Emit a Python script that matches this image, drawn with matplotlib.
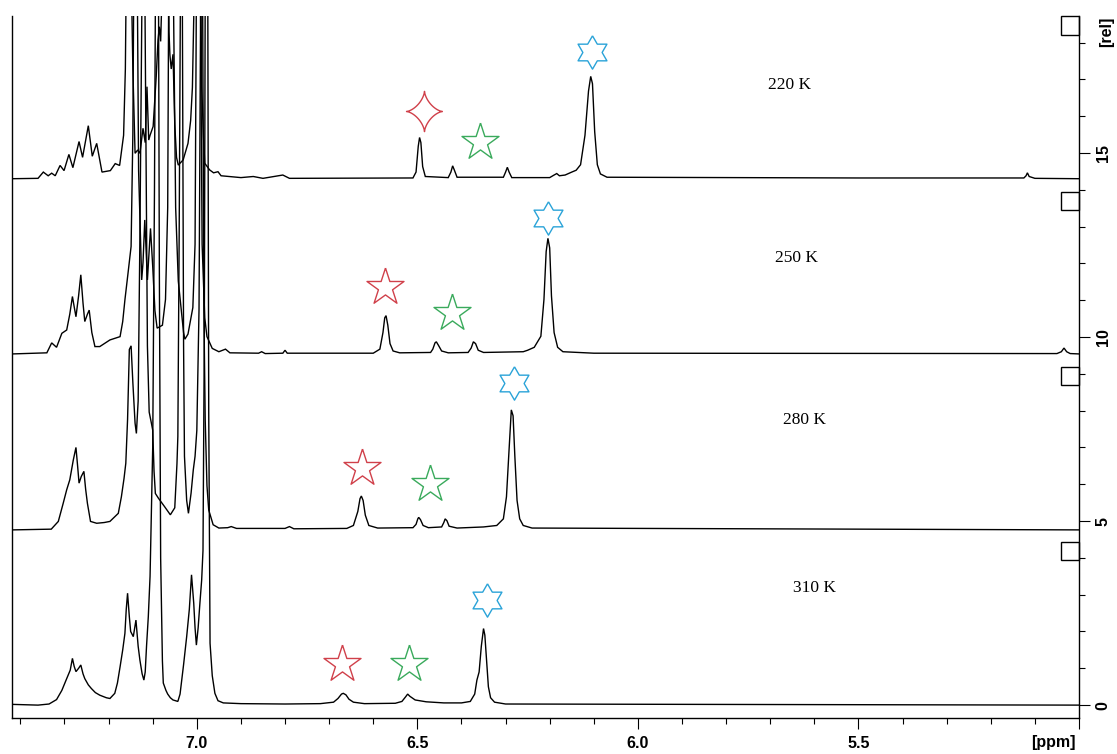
import numpy as np
import matplotlib
matplotlib.use('Agg')
import matplotlib.pyplot as plt
import matplotlib.ticker as ticker
from matplotlib.patches import Rectangle

# temperature series, stacked from top to bottom
temps = ['220 K', '250 K', '280 K', '310 K']
offsets = [14.28, 9.52, 4.76, 0.0]

# (ppm, relative intensity)
pts_220 = [
    (7.418, 0.02), (7.36, 0.03), (7.348, 0.2), (7.337, 0.1), (7.329, 0.17), (7.321, 0.1),
    (7.31, 0.38), (7.301, 0.24), (7.29, 0.68), (7.281, 0.32), (7.267, 1.03), (7.259, 0.6),
    (7.246, 1.46), (7.237, 0.63), (7.227, 0.98), (7.215, 0.2), (7.196, 0.24), (7.185, 0.43),
    (7.175, 0.38), (7.166, 1.2), (7.162, 3.0), (7.158, 8.0), (7.152, 8.0), (7.145, 3.0),
    (7.14, 0.71), (7.134, 0.8), (7.129, 0.71), (7.122, 1.39), (7.117, 1.0), (7.113, 2.52),
    (7.109, 1.07), (7.106, 1.2), (7.099, 1.44), (7.092, 2.8), (7.088, 3.79), (7.085, 4.15),
    (7.082, 3.75), (7.079, 5.0), (7.074, 8.0), (7.066, 8.0), (7.063, 4.0), (7.061, 3.38),
    (7.058, 3.0), (7.054, 3.4), (7.05, 1.5), (7.046, 0.6), (7.042, 0.39), (7.031, 0.53),
    (7.02, 0.98), (7.014, 1.6), (7.01, 2.5), (7.006, 5.0), (7.002, 8.0), (6.993, 8.0),
    (6.989, 2.52), (6.985, 1.2), (6.982, 0.44), (6.971, 0.26), (6.962, 0.18), (6.952, 0.21),
    (6.945, 0.1), (6.90, 0.05), (6.872, 0.08), (6.85, 0.03), (6.805, 0.12), (6.79, 0.03),
    (6.51, 0.04), (6.503, 0.2), (6.498, 0.9), (6.495, 1.14), (6.492, 1.0), (6.488, 0.35),
    (6.482, 0.08), (6.43, 0.05), (6.424, 0.2), (6.42, 0.37), (6.416, 0.25), (6.41, 0.06),
    (6.305, 0.06), (6.3, 0.2), (6.296, 0.33), (6.292, 0.2), (6.286, 0.05), (6.2, 0.05),
    (6.19, 0.12), (6.184, 0.16), (6.178, 0.1), (6.165, 0.12), (6.15, 0.2), (6.14, 0.25),
    (6.13, 0.4), (6.12, 1.2), (6.112, 2.4), (6.107, 2.8), (6.103, 2.6), (6.098, 1.3),
    (6.092, 0.4), (6.085, 0.15), (6.07, 0.06), (5.5, 0.04), (5.125, 0.04), (5.12, 0.1),
    (5.117, 0.18), (5.113, 0.08), (5.1, 0.03), (5.0, 0.02),
]

pts_250 = [
    (7.418, 0.02), (7.34, 0.05), (7.329, 0.32), (7.318, 0.2), (7.306, 0.58), (7.295, 0.67),
    (7.288, 1.1), (7.282, 1.58), (7.278, 1.3), (7.274, 1.03), (7.268, 1.6), (7.263, 2.17),
    (7.258, 1.4), (7.254, 0.9), (7.248, 1.1), (7.244, 1.21), (7.238, 0.6), (7.231, 0.22),
    (7.22, 0.22), (7.197, 0.4), (7.174, 0.49), (7.168, 0.9), (7.163, 1.49), (7.156, 2.21),
    (7.149, 2.94), (7.145, 6.0), (7.142, 12.0), (7.136, 12.0), (7.132, 5.0), (7.125, 2.03),
    (7.122, 2.5), (7.118, 3.66), (7.112, 2.03), (7.105, 3.43), (7.1, 2.4), (7.095, 1.2),
    (7.09, 0.72), (7.078, 0.8), (7.071, 1.5), (7.066, 4.0), (7.063, 12.0), (7.055, 12.0),
    (7.048, 4.0), (7.042, 2.0), (7.036, 1.3), (7.03, 0.6), (7.027, 0.42), (7.02, 0.56),
    (7.009, 1.28), (7.004, 3.0), (7.0, 12.0), (6.993, 12.0), (6.988, 3.0), (6.982, 1.0),
    (6.977, 0.49), (6.965, 0.17), (6.95, 0.08), (6.935, 0.15), (6.925, 0.05), (6.86, 0.04),
    (6.853, 0.08), (6.845, 0.03), (6.805, 0.04), (6.8, 0.12), (6.795, 0.04), (6.6, 0.04),
    (6.585, 0.15), (6.578, 0.6), (6.574, 1.0), (6.571, 1.06), (6.567, 0.8), (6.562, 0.3),
    (6.555, 0.1), (6.54, 0.05), (6.47, 0.06), (6.465, 0.15), (6.46, 0.32), (6.457, 0.35),
    (6.452, 0.25), (6.445, 0.1), (6.43, 0.05), (6.385, 0.06), (6.378, 0.18), (6.373, 0.35),
    (6.368, 0.3), (6.362, 0.12), (6.35, 0.06), (6.26, 0.08), (6.25, 0.12), (6.235, 0.2),
    (6.22, 0.5), (6.213, 1.5), (6.208, 2.8), (6.204, 3.16), (6.2, 2.9), (6.196, 1.6),
    (6.19, 0.6), (6.182, 0.2), (6.17, 0.08), (6.1, 0.04), (5.05, 0.03), (5.04, 0.08),
    (5.034, 0.18), (5.028, 0.08), (5.02, 0.03), (5.0, 0.02),
]

pts_280 = [
    (7.418, 0.0), (7.33, 0.02), (7.314, 0.23), (7.303, 0.72), (7.295, 1.09), (7.288, 1.36),
    (7.28, 1.9), (7.274, 2.24), (7.27, 1.7), (7.267, 1.27), (7.262, 1.45), (7.256, 1.59),
    (7.252, 1.1), (7.248, 0.72), (7.241, 0.23), (7.227, 0.18), (7.21, 0.2), (7.197, 0.23),
    (7.178, 0.45), (7.171, 0.9), (7.165, 1.4), (7.161, 1.81), (7.157, 3.0), (7.153, 4.9),
    (7.149, 5.0), (7.145, 4.0), (7.14, 2.9), (7.137, 2.62), (7.133, 3.5), (7.129, 8.0),
    (7.124, 15.0), (7.118, 15.0), (7.112, 5.0), (7.108, 3.2), (7.103, 2.9), (7.1, 2.71),
    (7.097, 1.6), (7.094, 0.99), (7.087, 0.86), (7.073, 0.63), (7.06, 0.41), (7.05, 0.6),
    (7.045, 1.8), (7.043, 2.54), (7.04, 8.0), (7.037, 15.0), (7.033, 15.0), (7.03, 5.0),
    (7.028, 2.0), (7.023, 0.8), (7.019, 0.45), (7.013, 1.0), (7.008, 1.63), (7.004, 2.0),
    (7.0, 2.7), (6.995, 6.0), (6.991, 15.0), (6.987, 15.0), (6.984, 6.0), (6.981, 3.0),
    (6.977, 1.2), (6.973, 0.54), (6.963, 0.14), (6.95, 0.05), (6.93, 0.06), (6.922, 0.09),
    (6.91, 0.04), (6.80, 0.04), (6.79, 0.09), (6.78, 0.03), (6.66, 0.04), (6.645, 0.12),
    (6.635, 0.5), (6.63, 0.85), (6.627, 0.92), (6.623, 0.8), (6.618, 0.4), (6.61, 0.12),
    (6.59, 0.05), (6.51, 0.06), (6.503, 0.15), (6.499, 0.3), (6.497, 0.34), (6.493, 0.28),
    (6.487, 0.12), (6.475, 0.06), (6.445, 0.08), (6.44, 0.2), (6.437, 0.3), (6.433, 0.25),
    (6.428, 0.1), (6.41, 0.05), (6.35, 0.08), (6.32, 0.12), (6.305, 0.3), (6.298, 0.9),
    (6.292, 2.2), (6.287, 3.26), (6.283, 3.1), (6.279, 2.0), (6.274, 0.8), (6.268, 0.3),
    (6.26, 0.12), (6.24, 0.05), (5.0, 0.0),
]

pts_310 = [
    (7.418, 0.02), (7.36, 0.0), (7.335, 0.03), (7.318, 0.15), (7.306, 0.4), (7.295, 0.72),
    (7.287, 0.95), (7.282, 1.27), (7.278, 1.05), (7.274, 0.91), (7.268, 1.0), (7.263, 1.09),
    (7.258, 0.85), (7.254, 0.72), (7.246, 0.55), (7.239, 0.45), (7.23, 0.34), (7.22, 0.27),
    (7.205, 0.2), (7.197, 0.18), (7.186, 0.32), (7.18, 0.6), (7.174, 1.04), (7.168, 1.5),
    (7.163, 1.95), (7.16, 2.6), (7.157, 3.04), (7.153, 2.4), (7.15, 2.0), (7.144, 1.86),
    (7.138, 2.31), (7.133, 1.6), (7.129, 1.22), (7.124, 0.85), (7.12, 0.68), (7.117, 0.9),
    (7.114, 1.6), (7.11, 2.4), (7.106, 3.5), (7.1, 7.0), (7.096, 14.0), (7.092, 24.0),
    (7.088, 24.0), (7.085, 12.0), (7.082, 4.0), (7.078, 1.2), (7.076, 0.6), (7.07, 0.4),
    (7.066, 0.3), (7.06, 0.2), (7.054, 0.14), (7.043, 0.1), (7.038, 0.3), (7.035, 0.6),
    (7.03, 1.1), (7.023, 1.86), (7.017, 2.6), (7.012, 3.54), (7.007, 2.77), (7.004, 2.1),
    (7.001, 1.63), (6.997, 2.1), (6.993, 2.77), (6.989, 3.4), (6.986, 4.2), (6.983, 10.0),
    (6.98, 24.0), (6.976, 24.0), (6.973, 8.0), (6.97, 1.68), (6.965, 0.8), (6.959, 0.32),
    (6.952, 0.12), (6.94, 0.06), (6.9, 0.04), (6.8, 0.03), (6.72, 0.04), (6.69, 0.08),
    (6.68, 0.18), (6.672, 0.3), (6.668, 0.32), (6.662, 0.28), (6.655, 0.16), (6.645, 0.08),
    (6.62, 0.04), (6.55, 0.05), (6.535, 0.1), (6.527, 0.22), (6.522, 0.3), (6.517, 0.24),
    (6.505, 0.14), (6.48, 0.09), (6.44, 0.06), (6.4, 0.06), (6.38, 0.1), (6.37, 0.3),
    (6.365, 0.68), (6.36, 0.9), (6.355, 1.6), (6.35, 2.08), (6.347, 1.9), (6.343, 1.2),
    (6.339, 0.5), (6.334, 0.2), (6.325, 0.08), (6.3, 0.03), (5.0, 0.0),
]

traces = [pts_220, pts_250, pts_280, pts_310]

# star annotations (ppm, y) per trace: red, green, blue
red_marks = [(6.486, 16.15), (6.574, 11.37), (6.625, 6.43), (6.670, 1.13)]
green_marks = [(6.357, 15.31), (6.422, 10.64), (6.472, 6.00), (6.518, 1.13)]
blue_marks = [(6.104, 17.73), (6.204, 13.23), (6.280, 8.74), (6.342, 2.85)]
label_pos = [(5.657, 16.85), (5.641, 12.15), (5.623, 7.74), (5.600, 3.18)]


def star_path(n, inner, yscale=1.0):
    a = np.pi / 2 + np.arange(2 * n) * np.pi / n
    r = np.where(np.arange(2 * n) % 2 == 0, 1.0, inner)
    v = np.column_stack([r * np.cos(a), yscale * r * np.sin(a)])
    return np.vstack([v, v[:1]])


def astroid_path(yscale=1.12):
    t = np.linspace(0, 2 * np.pi, 121)
    v = np.column_stack([np.cos(t) ** 3, yscale * np.sin(t) ** 3])
    return v


six_star = star_path(6, 1 / np.sqrt(3))
five_star = star_path(5, 0.382)
four_star = astroid_path()

RED = '#d0404a'
GREEN = '#3aaa5c'
BLUE = '#2aa3d8'

fig = plt.figure(figsize=(11.17, 7.54), dpi=100)
ax = fig.add_axes([12 / 1117, 36 / 754, 1067 / 1117, 702 / 754])

for pts, off in zip(traces, offsets):
    ppm = [p[0] for p in pts]
    val = [p[1] + off for p in pts]
    ax.plot(ppm, val, color='black', lw=1.0, solid_joinstyle='miter')

for i, (x, y) in enumerate(red_marks):
    if i == 0:
        ax.plot(x, y, marker=four_star, ms=29, mfc='none', mec=RED, mew=1.0)
    else:
        ax.plot(x, y, marker=five_star, ms=28, mfc='none', mec=RED, mew=1.0)
for x, y in green_marks:
    ax.plot(x, y, marker=five_star, ms=28, mfc='none', mec=GREEN, mew=1.0)
for x, y in blue_marks:
    ax.plot(x, y, marker=six_star, ms=24, mfc='none', mec=BLUE, mew=1.0)

for (x, y), t in zip(label_pos, temps):
    ax.text(x, y, t, family='Liberation Serif', fontsize=12.5,
            ha='center', va='center')

# small scale boxes sitting just under each trace at the right edge
for off in [19.04] + offsets[:-1]:
    ax.add_patch(Rectangle((5.0, off - 0.83), 0.041, 0.5, fill=False,
                           edgecolor='black', lw=1.0, clip_on=False))

ax.set_xlim(7.419, 5.0)
ax.set_ylim(-0.35, 18.72)

ax.spines['top'].set_visible(False)
for s in ['left', 'right', 'bottom']:
    ax.spines[s].set_linewidth(1.0)


def ppm_fmt(v, pos):
    # the right edge tick stays unlabelled
    if v < 5.05:
        return ''
    return '%.1f' % v


ax.xaxis.set_major_locator(ticker.MultipleLocator(0.5))
ax.xaxis.set_minor_locator(ticker.MultipleLocator(0.1))
ax.xaxis.set_major_formatter(ticker.FuncFormatter(ppm_fmt))
ax.yaxis.tick_right()
ax.yaxis.set_major_locator(ticker.MultipleLocator(5))
ax.yaxis.set_minor_locator(ticker.MultipleLocator(1))
ax.tick_params(which='major', direction='out', length=8, width=0.8)
ax.tick_params(which='minor', direction='out', length=4.5, width=0.8)
ax.tick_params(axis='x', which='major', pad=5)
ax.tick_params(axis='y', which='major', pad=4)

for lab in ax.get_xticklabels():
    lab.set_fontfamily('Liberation Sans')
    lab.set_fontweight('bold')
    lab.set_fontsize(11.5)
for lab in ax.get_yticklabels():
    lab.set_fontfamily('Liberation Sans')
    lab.set_fontweight('bold')
    lab.set_fontsize(11.5)
    lab.set_rotation(90)
    lab.set_va('center')

fig.text(1053 / 1117, 1 - 743 / 754, '[ppm]', family='Liberation Sans',
         fontweight='bold', fontsize=11.5, ha='center', va='center')
fig.text(1107 / 1117, 1 - 32 / 754, '[rel]', family='Liberation Sans',
         fontweight='bold', fontsize=11.5, ha='center', va='center', rotation=90)

fig.savefig('out.png', dpi=100, facecolor='white')
